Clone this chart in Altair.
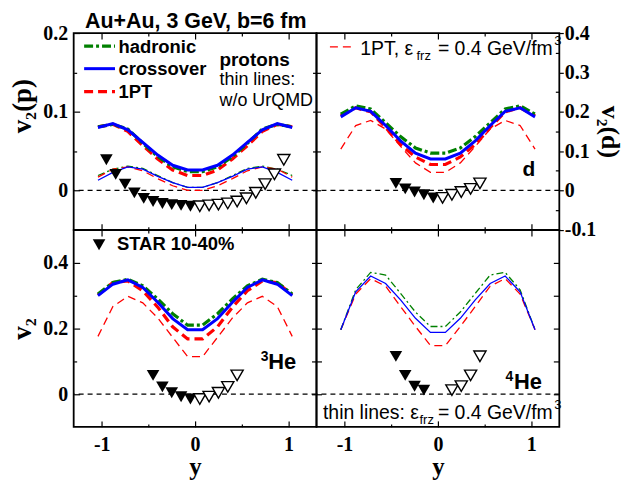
import altair as alt
import pandas as pd

SANS = "Liberation Sans"
SERIF = "Liberation Serif"
GREEN = "#008000"
BLUE = "#0000ff"
RED = "#ff0000"

W, H = 244, 197.75
XDOM = [-1.3, 1.3]
DOM_P = [-0.05, 0.2]
DOM_D = [-0.1, 0.4]
DOM_HE = [-0.1, 0.5]

# ---------------- model curves (rapidity bins) ----------------
y_model = [-1.04, -0.88, -0.72, -0.56, -0.40, -0.24, -0.08,
           0.08, 0.24, 0.40, 0.56, 0.72, 0.88, 1.04]

# protons (thick: with UrQMD, thin: w/o UrQMD)
p_had = [0.081, 0.084, 0.078, 0.060, 0.043, 0.030, 0.024, 0.024, 0.030, 0.043, 0.060, 0.078, 0.084, 0.081]
p_cross = [0.080, 0.085, 0.077, 0.061, 0.045, 0.032, 0.026, 0.026, 0.032, 0.045, 0.061, 0.077, 0.085, 0.080]
p_1pt = [0.081, 0.084, 0.075, 0.057, 0.040, 0.026, 0.019, 0.019, 0.026, 0.040, 0.057, 0.075, 0.084, 0.081]
p_had_thin = [0.019, 0.027, 0.031, 0.028, 0.019, 0.010, 0.004, 0.004, 0.010, 0.019, 0.028, 0.031, 0.027, 0.019]
p_cross_thin = [0.013, 0.023, 0.030, 0.027, 0.018, 0.010, 0.004, 0.004, 0.010, 0.018, 0.027, 0.030, 0.023, 0.013]
p_1pt_thin = [0.017, 0.027, 0.030, 0.025, 0.015, 0.006, 0.000, 0.000, 0.006, 0.015, 0.025, 0.030, 0.027, 0.017]

# deuterons
d_had = [0.194, 0.215, 0.207, 0.172, 0.137, 0.108, 0.095, 0.095, 0.108, 0.137, 0.172, 0.207, 0.215, 0.194]
d_cross = [0.187, 0.210, 0.201, 0.165, 0.126, 0.095, 0.080, 0.080, 0.095, 0.126, 0.165, 0.201, 0.210, 0.187]
d_1pt = [0.190, 0.210, 0.200, 0.160, 0.117, 0.085, 0.066, 0.066, 0.085, 0.117, 0.160, 0.200, 0.210, 0.190]
d_1pt_thin = [0.105, 0.165, 0.178, 0.156, 0.112, 0.070, 0.046, 0.046, 0.070, 0.112, 0.156, 0.178, 0.165, 0.105]

# 3He
he3_had = [0.305, 0.340, 0.350, 0.330, 0.290, 0.245, 0.210, 0.210, 0.245, 0.290, 0.330, 0.350, 0.340, 0.305]
he3_cross = [0.300, 0.335, 0.348, 0.325, 0.280, 0.230, 0.196, 0.196, 0.230, 0.280, 0.325, 0.348, 0.335, 0.300]
he3_1pt = [0.302, 0.340, 0.345, 0.315, 0.265, 0.205, 0.168, 0.168, 0.205, 0.265, 0.315, 0.345, 0.340, 0.302]
he3_1pt_thin = [0.176, 0.267, 0.298, 0.278, 0.232, 0.173, 0.114, 0.114, 0.173, 0.232, 0.278, 0.298, 0.267, 0.176]

# 4He (all thin)
he4_had = [0.196, 0.318, 0.371, 0.363, 0.307, 0.250, 0.206, 0.206, 0.250, 0.307, 0.363, 0.371, 0.318, 0.196]
he4_cross = [0.196, 0.312, 0.360, 0.337, 0.287, 0.231, 0.188, 0.188, 0.231, 0.287, 0.337, 0.360, 0.312, 0.196]
he4_1pt = [0.196, 0.305, 0.352, 0.329, 0.267, 0.206, 0.148, 0.148, 0.206, 0.267, 0.329, 0.352, 0.305, 0.196]

# ---------------- STAR 10-40% data ----------------
p_star_y = [-0.95, -0.85, -0.75, -0.65, -0.55, -0.45, -0.35, -0.25, -0.15, -0.05]
p_star_v = [0.039, 0.0205, 0.008, -0.003, -0.010, -0.014, -0.0165, -0.018, -0.019, -0.020]
p_refl_y = [0.05, 0.15, 0.25, 0.35, 0.45, 0.55, 0.65, 0.75, 0.85, 0.95]
p_refl_v = [-0.020, -0.019, -0.018, -0.0165, -0.014, -0.010, -0.003, 0.008, 0.0205, 0.039]

d_star_y = [-0.45, -0.35, -0.25, -0.15, -0.05]
d_star_v = [0.018, 0.004, -0.004, -0.011, -0.019]
d_refl_y = [0.05, 0.15, 0.25, 0.35, 0.45]
d_refl_v = [-0.019, -0.011, -0.004, 0.004, 0.018]

he3_star_y = [-0.45, -0.35, -0.25, -0.15, -0.05]
he3_star_v = [0.057, 0.022, 0.004, -0.008, -0.015]
he3_refl_y = [0.05, 0.15, 0.25, 0.35, 0.45]
he3_refl_v = [-0.015, -0.008, 0.004, 0.022, 0.057]

he4_star_y = [-0.45, -0.35, -0.25, -0.15]
he4_star_v = [0.115, 0.057, 0.024, 0.012]
he4_refl_y = [0.15, 0.25, 0.35, 0.45]
he4_refl_v = [0.012, 0.024, 0.057, 0.115]

THICK = 3.2
THIN = 1.3
DASH_G = [9, 3, 3, 3]
DASH_R = [9, 5]
DASH_G_THIN = [7, 3, 2, 3]
DASH_R_THIN = [8, 5]

HYPHEN = "datum.value < 0 ? '-' + format(-datum.value, '~g') : format(datum.value, '~g')"


def xsc():
    return alt.Scale(domain=XDOM, nice=False, zero=False)


def ysc(dom):
    return alt.Scale(domain=dom, nice=False, zero=False)


def ax(orient, values, size, labels=False, **kw):
    d = dict(orient=orient, values=values, labels=labels, ticks=True,
             domain=False, grid=False, tickColor="black", tickWidth=1.2)
    d["tickSize"] = size if size >= 0 else {"expr": str(size)}
    d.update(kw)
    return alt.Axis(**d)


def carrier(dom, xaxis, yaxis, xtitle=None, ytitle=None):
    df = pd.DataFrame({"x": [0.0], "v": [0.0]})
    return alt.Chart(df).mark_point(opacity=0).encode(
        x=alt.X("x:Q", scale=xsc(), axis=xaxis, title=xtitle),
        y=alt.Y("v:Q", scale=ysc(dom), axis=yaxis, title=ytitle),
    )


def curve(vals, dom, color, width, dash=None):
    df = pd.DataFrame({"x": y_model, "v": vals})
    kw = dict(color=color, strokeWidth=width)
    if dash:
        kw["strokeDash"] = dash
    return alt.Chart(df).mark_line(**kw).encode(
        x=alt.X("x:Q", scale=xsc(), axis=None),
        y=alt.Y("v:Q", scale=ysc(dom), axis=None),
    )


def star(xs, vs, dom, filled):
    df = pd.DataFrame({"x": xs, "v": vs})
    if filled:
        m = alt.Chart(df).mark_point(shape="triangle-down", size=160, filled=True,
                                     color="black", opacity=1)
    else:
        m = alt.Chart(df).mark_point(shape="triangle-down", size=150, filled=True,
                                     fill="white", stroke="black", strokeWidth=1.4, opacity=1)
    return m.encode(
        x=alt.X("x:Q", scale=xsc(), axis=None),
        y=alt.Y("v:Q", scale=ysc(dom), axis=None),
    )


def zero(dom):
    return alt.Chart(pd.DataFrame({"v": [0.0]})).mark_rule(
        color="black", strokeWidth=1.2, strokeDash=[5, 4]
    ).encode(y=alt.Y("v:Q", scale=ysc(dom), axis=None))


def txt(s, x, y, size, bold=False, font=SANS):
    return alt.Chart(pd.DataFrame({"t": [s]})).mark_text(
        align="left", baseline="alphabetic", font=font, fontSize=size,
        fontWeight="bold" if bold else "normal", color="black"
    ).encode(x=alt.value(x), y=alt.value(y), text="t:N")


def seg(x1, x2, y, color, width, dash=None):
    kw = dict(color=color, strokeWidth=width)
    if dash:
        kw["strokeDash"] = dash
    return alt.Chart(pd.DataFrame({"a": [0]})).mark_rule(**kw).encode(
        x=alt.value(x1), x2=alt.value(x2), y=alt.value(y))


def tri(x, y):
    return alt.Chart(pd.DataFrame({"a": [0]})).mark_point(
        shape="triangle-down", size=160, filled=True, color="black", opacity=1
    ).encode(x=alt.value(x), y=alt.value(y))


def layer(*layers):
    return alt.layer(*layers).resolve_axis(x="independent", y="independent").properties(
        width=W, height=H)


LBL = dict(labelFont=SERIF, labelFontWeight="bold", labelFontSize=20, labelColor="black",
           titleFont=SERIF, titleFontWeight="bold", titleFontSize=27, titleColor="black",
           labelExpr=HYPHEN, labelFlush=False)
LBL_X = dict(LBL, titleFontSize=25)
LBL_R = dict(LBL, titleFontSize=26)

# ---------------- top-left: protons ----------------
tl = layer(
    carrier(DOM_P, ax("bottom", [-1, 0, 1], -6),
            ax("left", [0, 0.1, 0.2], -6, labels=True, labelPadding=12, titleY=73,
               titlePadding=6, **LBL), ytitle="v₂(p)"),
    carrier(DOM_P, ax("bottom", [-0.5, 0.5], -3), ax("left", [0.05, 0.15], -3)),
    carrier(DOM_P, ax("top", [-1, 0, 1], -6), ax("right", [0, 0.05, 0.1, 0.15], -4)),
    carrier(DOM_P, ax("top", [-0.5, 0.5], -3), None),
    zero(DOM_P),
    curve(p_had_thin, DOM_P, GREEN, THIN, DASH_G_THIN),
    curve(p_1pt_thin, DOM_P, RED, THIN, DASH_R_THIN),
    curve(p_cross_thin, DOM_P, BLUE, THIN),
    curve(p_1pt, DOM_P, RED, THICK, DASH_R),
    curve(p_had, DOM_P, GREEN, THICK, DASH_G),
    curve(p_cross, DOM_P, BLUE, 3),
    star(p_star_y, p_star_v, DOM_P, True),
    star(p_refl_y, p_refl_v, DOM_P, False),
    txt("Au+Au, 3 GeV, b=6 fm", 11.5, -5.5, 21.5, bold=True),
    seg(10.5, 41.5, 13.2, GREEN, THICK, DASH_G),
    seg(10.5, 41.5, 35.8, BLUE, 3),
    seg(10.5, 41.5, 58.8, RED, THICK, DASH_R),
    txt("hadronic", 45, 20.5, 18.5, bold=True),
    txt("crossover", 45, 42.5, 18.5, bold=True),
    txt("1PT", 45, 65, 18.5, bold=True),
    txt("protons", 146.5, 33.5, 19, bold=True),
    txt("thin lines:", 146.5, 52.5, 18),
    txt("w/o UrQMD", 146.5, 73, 18),
)

# ---------------- top-right: deuterons ----------------
tr = layer(
    carrier(DOM_D, ax("bottom", [-1, 0, 1], -6),
            ax("right", [-0.1, 0, 0.1, 0.2, 0.3, 0.4], 4, labels=True, labelPadding=1,
               titlePadding=1, **LBL_R), ytitle="v₂(d)"),
    carrier(DOM_D, ax("bottom", [-0.5, 0.5], -3),
            ax("right", [-0.05, 0.05, 0.15, 0.25, 0.35], -4)),
    carrier(DOM_D, ax("top", [-1, 0, 1], -6), ax("left", [0, 0.1, 0.2, 0.3], -4)),
    carrier(DOM_D, ax("top", [-0.5, 0.5], -3), None),
    zero(DOM_D),
    curve(d_1pt_thin, DOM_D, RED, THIN, DASH_R_THIN),
    curve(d_1pt, DOM_D, RED, THICK, DASH_R),
    curve(d_had, DOM_D, GREEN, THICK, DASH_G),
    curve(d_cross, DOM_D, BLUE, 3),
    star(d_star_y, d_star_v, DOM_D, True),
    star(d_refl_y, d_refl_v, DOM_D, False),
    seg(13.5, 38.5, 14, RED, THIN, DASH_R_THIN),
    txt("1PT, ε", 44, 22, 19.5),
    txt("frz", 100.5, 27, 13),
    txt("= 0.4 GeV/fm", 122, 22, 19.5),
    txt("3", 239, 12.5, 13),
    txt("d", 207, 144, 21, bold=True),
)

# ---------------- bottom-left: 3He ----------------
bl = layer(
    carrier(DOM_HE, ax("bottom", [-1, 0, 1], -6, labels=True, labelPadding=14,
                       titlePadding=0, **LBL_X),
            ax("left", [0, 0.2, 0.4], -6, labels=True, labelPadding=12,
               titlePadding=6, **LBL), xtitle="y", ytitle="v₂"),
    carrier(DOM_HE, ax("bottom", [-0.5, 0.5], -3), ax("left", [0.1, 0.3], -3)),
    carrier(DOM_HE, ax("top", [-1, 0, 1], -6), ax("right", [0, 0.1, 0.2, 0.3, 0.4], -5)),
    carrier(DOM_HE, ax("top", [-0.5, 0.5], -3), None),
    zero(DOM_HE),
    curve(he3_1pt_thin, DOM_HE, RED, THIN, DASH_R_THIN),
    curve(he3_1pt, DOM_HE, RED, THICK, DASH_R),
    curve(he3_had, DOM_HE, GREEN, THICK, DASH_G),
    curve(he3_cross, DOM_HE, BLUE, 3),
    star(he3_star_y, he3_star_v, DOM_HE, True),
    star(he3_refl_y, he3_refl_v, DOM_HE, False),
    tri(25.5, 14.7),
    txt("STAR 10-40%", 43.5, 19.7, 18.5, bold=True),
    txt("3", 188, 131.5, 14, bold=True),
    txt("He", 195.5, 139.7, 22, bold=True),
)

# ---------------- bottom-right: 4He ----------------
br = layer(
    carrier(DOM_HE, ax("bottom", [-1, 0, 1], -6, labels=True, labelPadding=14,
                       titlePadding=0, **LBL_X),
            ax("left", [0, 0.1, 0.2, 0.3, 0.4], -5), xtitle="y"),
    carrier(DOM_HE, ax("bottom", [-0.5, 0.5], -3), ax("right", [0, 0.1, 0.2, 0.3, 0.4], -6)),
    carrier(DOM_HE, ax("top", [-1, 0, 1], -6), None),
    carrier(DOM_HE, ax("top", [-0.5, 0.5], -3), None),
    zero(DOM_HE),
    curve(he4_1pt, DOM_HE, RED, THIN, DASH_R_THIN),
    curve(he4_had, DOM_HE, GREEN, THIN, DASH_G_THIN),
    curve(he4_cross, DOM_HE, BLUE, THIN),
    star(he4_star_y, he4_star_v, DOM_HE, True),
    star(he4_refl_y, he4_refl_v, DOM_HE, False),
    txt("4", 190, 151.5, 14, bold=True),
    txt("He", 198.5, 159.7, 22, bold=True),
    txt("thin lines: ε", 6.5, 189.7, 19.5),
    txt("frz", 103.5, 194.7, 13),
    txt("= 0.4 GeV/fm", 122, 189.7, 19.5),
    txt("3", 239, 180, 13),
)

chart = alt.concat(tl, tr, bl, br, columns=2, spacing=0, bounds="flush").resolve_scale(
    x="independent", y="independent"
).configure_view(stroke="black", strokeWidth=1.8).properties(
    padding={"left": 0, "top": 0, "right": 0, "bottom": 0}, background="white"
)

chart.save("out.html", embed_options={"renderer": "svg", "actions": False})
